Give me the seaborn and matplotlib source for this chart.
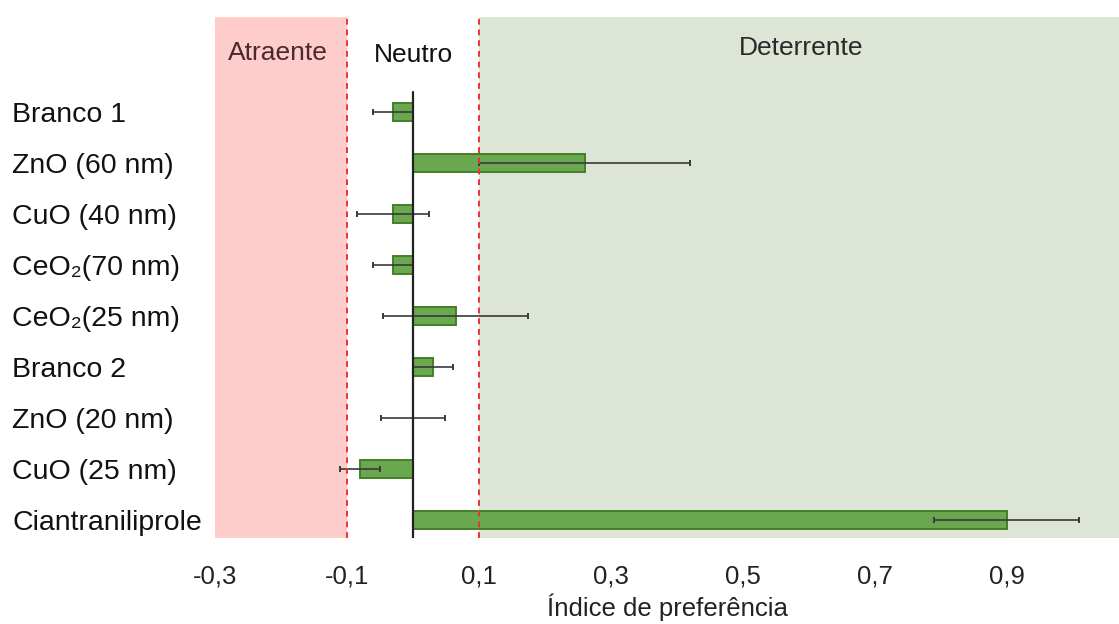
import numpy as np
import pandas as pd
import matplotlib
matplotlib.use("Agg")
import matplotlib.pyplot as plt
import seaborn as sns

# Treatments, mean preference index and error
tratamentos = ["Branco 1", "ZnO (60 nm)", "CuO (40 nm)", "CeO\u2082(70 nm)",
               "CeO\u2082(25 nm)", "Branco 2", "ZnO (20 nm)", "CuO (25 nm)",
               "Ciantraniliprole"]
indice = [-0.03, 0.26, -0.03, -0.03, 0.065, 0.03, 0.0, -0.08, 0.90]
erro = [0.03, 0.16, 0.055, 0.03, 0.11, 0.03, 0.048, 0.03, 0.11]

xticks = [-0.3, -0.1, 0.1, 0.3, 0.5, 0.7, 0.9]
xticklabels = ["-0,3", "-0,1", "0,1", "0,3", "0,5", "0,7", "0,9"]

zonas = ["Atraente", "Neutro", "Deterrente"]

sns.set_theme(style="white")
plt.rcParams["font.family"] = ["Liberation Sans", "DejaVu Sans"]

fig = plt.figure(figsize=(11.19, 6.24), dpi=100)
W, H = 1119, 624
ax = fig.add_axes([215 / W, 86 / H, (W - 215) / W, (538 - 17) / H])

df = pd.DataFrame({"tratamento": tratamentos, "indice": indice})

# Background zones
ax.axvspan(-0.3, -0.1, color="#ffcccc", lw=0, zorder=0)
ax.axvspan(0.1, 1.2, color="#dde5d6", lw=0, zorder=0)

sns.barplot(data=df, x="indice", y="tratamento", orient="h", ax=ax,
            color="#6aa84f", edgecolor="#447f28", linewidth=1.4,
            width=0.35, errorbar=None, saturation=1, zorder=2)

pos = np.arange(len(tratamentos))
ax.errorbar(indice, pos, xerr=erro, fmt="none", ecolor="#3a3a3a",
            elinewidth=1.2, capsize=2.5, capthick=1.4, zorder=3)

# Zero axis
ax.plot([0, 0], [-0.39, 8.35], color="#222222", lw=1.6, zorder=4)

# Zone limits
for xv in (-0.1, 0.1):
    ax.axvline(xv, color="#ee3333", lw=1.4, ls=(0, (3, 2.5)), zorder=5)

ax.set_xlim(-0.3, 1.07)
ax.set_ylim(8.35, -1.86)

ax.set_xticks(xticks)
ax.set_xticklabels(xticklabels, fontsize=18.5, color="#222222")
ax.tick_params(axis="x", length=0, pad=19)

ax.set_yticks(pos)
ax.set_yticklabels(tratamentos, fontsize=20.5, color="#111111")
for lbl in ax.get_yticklabels():
    lbl.set_horizontalalignment("left")
ax.tick_params(axis="y", length=0, pad=(215 - 12) * 0.72)

ax.set_ylabel("")
ax.set_xlabel("Índice de preferência", fontsize=18.5, color="#222222", va="center")
ax.xaxis.set_label_coords(0.5, (538 - 607) / 521)

for s in ax.spines.values():
    s.set_visible(False)

ax.text(-0.205, -1.15, zonas[0], ha="center", va="center", fontsize=19, color="#4a2a2a")
ax.text(0.0, -1.12, zonas[1], ha="center", va="center", fontsize=19, color="#111111")
ax.text(0.588, -1.25, zonas[2], ha="center", va="center", fontsize=19, color="#2a2a2a")

fig.savefig("out.png", dpi=100)
